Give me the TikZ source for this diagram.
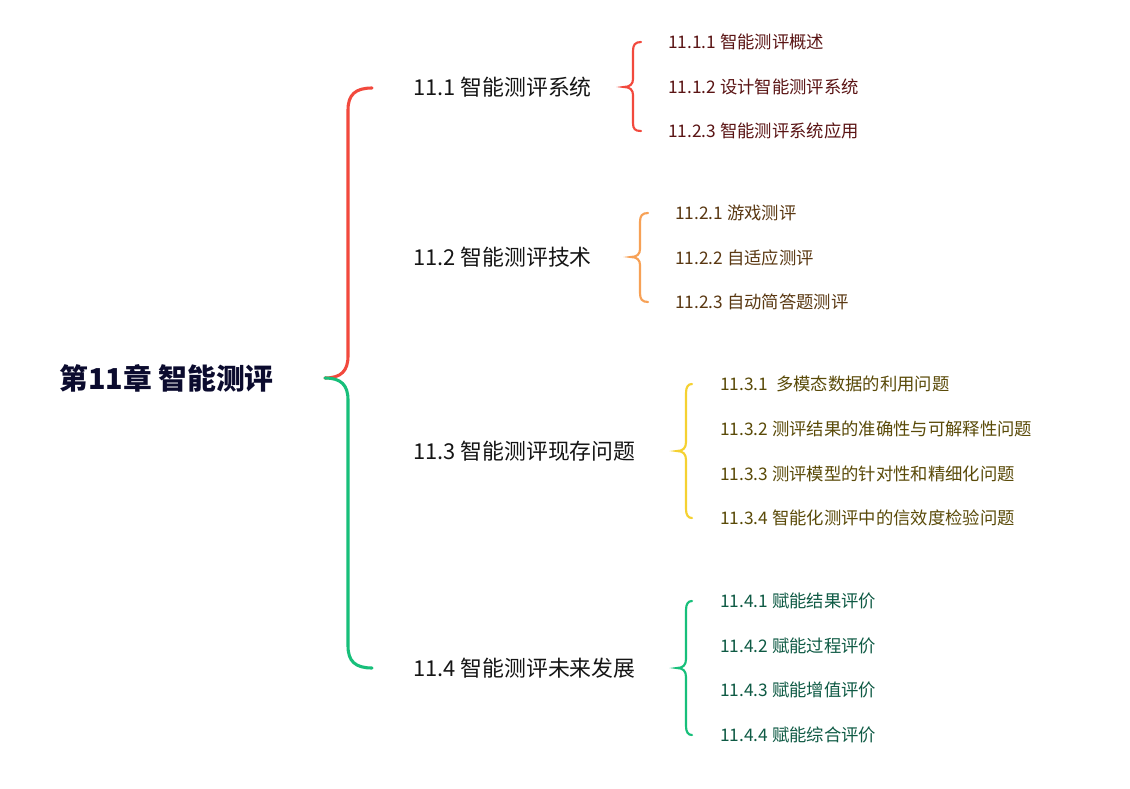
\documentclass[tikz,border=0pt]{standalone}
\usepackage{fontspec}
\setmainfont{Noto Sans CJK SC}
\definecolor{cred}{HTML}{F2493D}
\definecolor{corange}{HTML}{F7A156}
\definecolor{cyellow}{HTML}{F5D131}
\definecolor{cgreen}{HTML}{17BF7A}
\definecolor{tred}{HTML}{5A1414}
\definecolor{torange}{HTML}{5A3812}
\definecolor{tyellow}{HTML}{5A4A08}
\definecolor{tgreen}{HTML}{0E5A44}
\definecolor{troot}{HTML}{0B0B2E}
\definecolor{tlvl}{HTML}{151515}
\begin{document}
\begin{tikzpicture}[x=0.75pt,y=-0.75pt,
  rootnode/.style={anchor=west,inner sep=0pt,font=\fontsize{21.6}{26}\selectfont\bfseries,text=troot},
  lvltwo/.style={anchor=west,inner sep=0pt,font=\fontsize{16.4}{20}\selectfont,text=tlvl},
  lvlthree/.style={anchor=west,inner sep=0pt,font=\fontsize{13}{16}\selectfont},
  bigbrace/.style={line width=2.3pt,line cap=round},
  smallbrace/.style={line width=1.6pt,line cap=round}]
\useasboundingbox (0,0) rectangle (1130,788);
\fill[white] (0,0) rectangle (1130,788);

% root
\node[rootnode] (root) at (59,378) {第11章 智能测评};
\coordinate (tip) at (325,378);

% level 2
\node[lvltwo] (n1) at (413,87) {11.1 智能测评系统};
\node[lvltwo] (n2) at (413,257) {11.2 智能测评技术};
\node[lvltwo] (n3) at (413,451) {11.3 智能测评现存问题};
\node[lvltwo] (n4) at (413,668) {11.4 智能测评未来发展};

% main brace
\draw[bigbrace,cred] (tip) .. controls (341,378) and (348,371) .. (348,356)
  -- (348,110) .. controls (348,95) and (355,88) .. (372,88);
\draw[bigbrace,cgreen] (tip) .. controls (341,378) and (348,385) .. (348,400)
  -- (348,646) .. controls (348,661) and (355,668) .. (372,668);

% group 1
\node[lvlthree,text=tred] (n11) at (668,42) {11.1.1 智能测评概述};
\node[lvlthree,text=tred] (n12) at (668,87) {11.1.2 设计智能测评系统};
\node[lvlthree,text=tred] (n13) at (668,131) {11.2.3 智能测评系统应用};
\draw[smallbrace,cred] (641,42) .. controls (635,42) and (633,45) .. (633,51)
  -- (633,79) .. controls (633,84) and (630,87) .. (624,87)
  .. controls (630,87) and (633,90) .. (633,95)
  -- (633,123) .. controls (633,129) and (635,131) .. (641,131);

% group 2
\node[lvlthree,text=torange] (n21) at (675,213) {11.2.1 游戏测评};
\node[lvlthree,text=torange] (n22) at (675,258) {11.2.2 自适应测评};
\node[lvlthree,text=torange] (n23) at (675,302) {11.2.3 自动简答题测评};
\draw[smallbrace,corange] (648,213) .. controls (642,213) and (640,216) .. (640,222)
  -- (640,249) .. controls (640,254) and (637,257) .. (631,257)
  .. controls (637,257) and (640,260) .. (640,265)
  -- (640,293) .. controls (640,299) and (642,302) .. (648,302);

% group 3
\node[lvlthree,text=tyellow] (n31) at (720,384) {11.3.1\ \ 多模态数据的利用问题};
\node[lvlthree,text=tyellow] (n32) at (720,429) {11.3.2 测评结果的准确性与可解释性问题};
\node[lvlthree,text=tyellow] (n33) at (720,474) {11.3.3 测评模型的针对性和精细化问题};
\node[lvlthree,text=tyellow] (n34) at (720,518) {11.3.4 智能化测评中的信效度检验问题};
\draw[smallbrace,cyellow] (692,384) .. controls (688,384) and (686,387) .. (686,393)
  -- (686,442) .. controls (686,448) and (683,451) .. (677,451)
  .. controls (683,451) and (686,454) .. (686,460)
  -- (686,509) .. controls (686,515) and (688,518) .. (692,518);

% group 4
\node[lvlthree,text=tgreen] (n41) at (720,601) {11.4.1 赋能结果评价};
\node[lvlthree,text=tgreen] (n42) at (720,646) {11.4.2 赋能过程评价};
\node[lvlthree,text=tgreen] (n43) at (720,690) {11.4.3 赋能增值评价};
\node[lvlthree,text=tgreen] (n44) at (720,735) {11.4.4 赋能综合评价};
\draw[smallbrace,cgreen] (692,601) .. controls (688,601) and (686,604) .. (686,610)
  -- (686,659) .. controls (686,665) and (683,668) .. (677,668)
  .. controls (683,668) and (686,671) .. (686,677)
  -- (686,726) .. controls (686,732) and (688,735) .. (692,735);
\end{tikzpicture}
\end{document}
